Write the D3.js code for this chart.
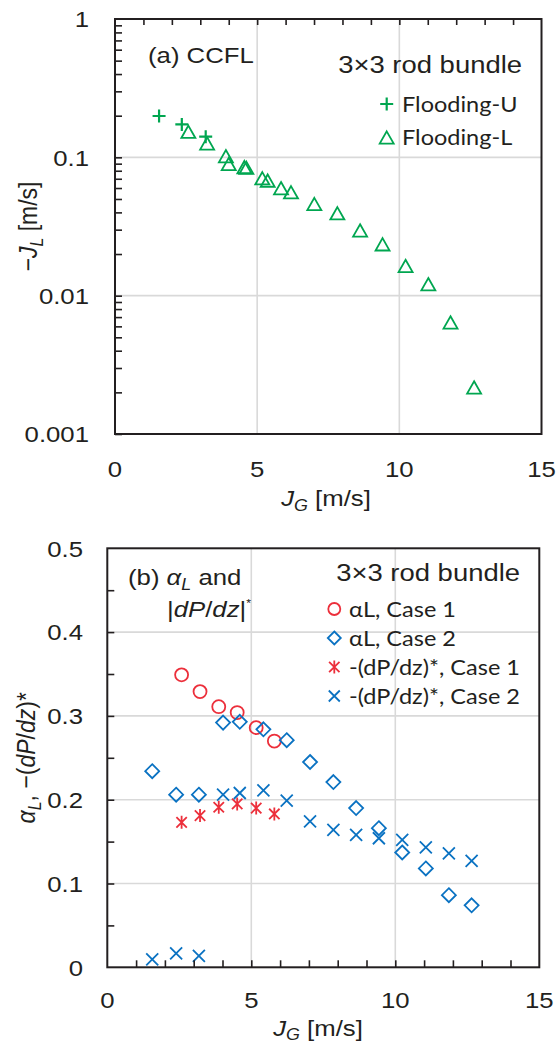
<!DOCTYPE html>
<html>
<head>
<meta charset="utf-8">
<script src="https://cdn.jsdelivr.net/npm/d3@7"></script>
<style>
  body { margin: 0; background: #fff; }
  svg { display: block; }
</style>
</head>
<body>
<svg id="fig" width="557" height="1045"></svg>
<script>
// ---- (a) CCFL: flooding limits, 3x3 rod bundle ----
const jgFloodU = [1.55, 2.35, 3.19];
const jlFloodU = [0.199, 0.173, 0.141];
const jgFloodL = [2.58, 3.24, 3.90, 4.00, 4.55, 4.62, 5.18, 5.37, 5.84, 6.19, 7.01, 7.82, 8.62, 9.41, 10.22, 11.02, 11.80, 12.63];
const jlFloodL = [0.153, 0.126, 0.102, 0.0896, 0.0850, 0.0840, 0.0706, 0.0679, 0.0598, 0.0559, 0.0460, 0.0394, 0.0296, 0.0235, 0.0164, 0.0121, 0.0064, 0.00217];

// ---- (b) liquid fraction and normalized pressure gradient ----
const jgCase1 = [2.58, 3.22, 3.87, 4.51, 5.17, 5.80];
const alphaCase1 = [0.349, 0.329, 0.311, 0.304, 0.286, 0.270];
const dpCase1 = [0.173, 0.181, 0.191, 0.195, 0.190, 0.183];
const jgCase2 = [1.56, 2.39, 3.18, 4.02, 4.60, 5.42, 6.23, 7.04, 7.85, 8.64, 9.43, 10.24, 11.06, 11.86, 12.65];
const alphaCase2 = [0.234, 0.206, 0.206, 0.292, 0.293, 0.284, 0.271, 0.245, 0.221, 0.190, 0.166, 0.137, 0.118, 0.086, 0.074];
const dpCase2 = [0.0095, 0.0167, 0.0135, 0.206, 0.208, 0.211, 0.199, 0.174, 0.164, 0.158, 0.154, 0.152, 0.143, 0.136, 0.127];

// ---- tick values and labels ----
const jgTicks = [0, 5, 10, 15];
const jgTickLabels = ["0", "5", "10", "15"];
const jlTicks = [0.001, 0.01, 0.1, 1];
const jlTickLabels = ["0.001", "0.01", "0.1", "1"];
const bTicks = [0, 0.1, 0.2, 0.3, 0.4, 0.5];
const bTickLabels = ["0", "0.1", "0.2", "0.3", "0.4", "0.5"];

// ---- legend entries ----
const legendA = ["Flooding-U", "Flooding-L"];
const legendB = ["\u03b1L, Case 1", "\u03b1L, Case 2", "-(dP/dz)*, Case 1", "-(dP/dz)*, Case 2"];

const INK = "#231f20";
const GRID = "#d9d9d9";
const GREEN = "#00a650";
const RED = "#ec2f3b";
const BLUE = "#0a72c2";
const SANS = "'Liberation Sans', Arial, sans-serif";
const LEG = "Lato, 'Open Sans', sans-serif";
const SX = 1.12; // horizontal glyph stretch

const svg = d3.select("#fig");

function label(g, x, y, anchor, size, family) {
  return g.append("text")
    .attr("transform", `translate(${x},${y}) scale(${SX},1)`)
    .attr("text-anchor", anchor)
    .attr("font-size", size)
    .attr("font-family", family || SANS)
    .attr("fill", INK);
}

// marker path generators (centred on 0,0)
const mk = {
  plus: s => `M${-s},0H${s}M0,${-s}V${s}`,
  tri: s => `M0,${-s * 0.88}L${s},${s * 0.88}L${-s},${s * 0.88}Z`,
  circle: s => `M${s},0A${s},${s} 0 1,1 ${-s},0A${s},${s} 0 1,1 ${s},0Z`,
  diamond: s => `M0,${-s}L${s},0L0,${s}L${-s},0Z`,
  cross: s => `M${-s},${-s}L${s},${s}M${-s},${s}L${s},${-s}`,
  star: s => `M${-s * 0.8},${-s * 0.8}L${s * 0.8},${s * 0.8}M${-s * 0.8},${s * 0.8}L${s * 0.8},${-s * 0.8}M0,${-s}V${s}`
};

function drawMarks(g, xs, ys, x, y, shape, size, color, width) {
  g.append("g").selectAll("path")
    .data(xs.map((v, i) => [v, ys[i]]))
    .join("path")
    .attr("transform", d => `translate(${x(d[0])},${y(d[1])})`)
    .attr("d", mk[shape](size))
    .attr("fill", "none")
    .attr("stroke", color)
    .attr("stroke-width", width);
}

function styleAxis(sel) {
  sel.select(".domain").remove();
  sel.selectAll(".tick line").attr("stroke", INK).attr("stroke-width", 1.6);
  sel.selectAll(".tick text").remove();
}

/* ================= (a) CCFL ================= */
{
  const L = 115, R = 541.5, T = 19, B = 434;
  const x = d3.scaleLinear().domain([0, 15]).range([L, R]);
  const y = d3.scaleLog().domain([0.001, 1]).range([B, T]);
  const g = svg.append("g");

  // gridlines
  g.append("g").selectAll("line").data([5, 10]).join("line")
    .attr("x1", d => x(d)).attr("x2", d => x(d)).attr("y1", T).attr("y2", B)
    .attr("stroke", GRID).attr("stroke-width", 1.6);
  g.append("g").selectAll("line").data([0.01, 0.1]).join("line")
    .attr("x1", L).attr("x2", R).attr("y1", d => y(d)).attr("y2", d => y(d))
    .attr("stroke", GRID).attr("stroke-width", 1.6);

  // data
  drawMarks(g, jgFloodL, jlFloodL, x, y, "tri", 7, GREEN, 1.8);
  drawMarks(g, jgFloodU, jlFloodU, x, y, "plus", 6.5, GREEN, 2.2);

  // tick marks: top edge (every 1 m/s), left edge (log minor)
  g.append("g").attr("transform", `translate(0,${T})`)
    .call(d3.axisTop(x).tickValues(d3.range(1, 15)).tickSizeInner(-6).tickSizeOuter(0))
    .call(styleAxis);
  const logMinor = [];
  [0.001, 0.01, 0.1].forEach(p => { for (let k = 1; k <= 9; k++) logMinor.push(p * k); });
  g.append("g").attr("transform", `translate(${L},0)`)
    .call(d3.axisLeft(y).tickValues(logMinor).tickSizeInner(-7).tickSizeOuter(0))
    .call(styleAxis);

  // frame
  g.append("rect").attr("x", L).attr("y", T).attr("width", R - L).attr("height", B - T)
    .attr("fill", "none").attr("stroke", INK).attr("stroke-width", 2);

  // tick labels
  jgTicks.forEach((v, i) => label(g, x(v), 477, "middle", 23).text(jgTickLabels[i]));
  jlTicks.forEach((v, i) => label(g, 89, y(v) + 8.3, "end", 23).text(jlTickLabels[i]));

  // axis titles
  const xt = label(g, 326, 506, "middle", 23);
  xt.append("tspan").attr("font-style", "italic").text("J");
  xt.append("tspan").attr("font-style", "italic").attr("font-size", 16).attr("dy", 5).text("G");
  xt.append("tspan").attr("dy", -5).text(" [m/s]");

  const yt = g.append("text")
    .attr("transform", `translate(37,${(T + B) / 2}) rotate(-90) scale(1,${SX})`)
    .attr("text-anchor", "middle").attr("font-size", 23).attr("font-family", SANS).attr("fill", INK);
  yt.append("tspan").text("\u2212");
  yt.append("tspan").attr("font-style", "italic").text("J");
  yt.append("tspan").attr("font-style", "italic").attr("font-size", 16).attr("dy", 5).text("L");
  yt.append("tspan").attr("dy", -5).text(" [m/s]");

  // panel title and legend
  label(g, 148, 63, "start", 23).text("(a) CCFL");
  label(g, 522, 73, "end", 24.5).text("3\u00d73 rod bundle");
  const legMarks = ["plus", "tri"];
  const legY = [104, 137.5];
  legendA.forEach((t, i) => {
    g.append("path").attr("transform", `translate(386.7,${legY[i]})`)
      .attr("d", mk[legMarks[i]](legMarks[i] === "plus" ? 6.5 : 7))
      .attr("fill", "none").attr("stroke", GREEN).attr("stroke-width", legMarks[i] === "plus" ? 2.2 : 1.8);
    label(g, 402, legY[i] + 7.5, "start", 21, LEG).text(t);
  });
}

/* ================= (b) alpha_L and |dP/dz|* ================= */
{
  const L = 107.3, R = 539.3, T = 548.3, B = 967.3;
  const x = d3.scaleLinear().domain([0, 15]).range([L, R]);
  const y = d3.scaleLinear().domain([0, 0.5]).range([B, T]);
  const g = svg.append("g");

  g.append("g").selectAll("line").data([5, 10]).join("line")
    .attr("x1", d => x(d)).attr("x2", d => x(d)).attr("y1", T).attr("y2", B)
    .attr("stroke", GRID).attr("stroke-width", 1.6);
  g.append("g").selectAll("line").data([0.1, 0.2, 0.3, 0.4]).join("line")
    .attr("x1", L).attr("x2", R).attr("y1", d => y(d)).attr("y2", d => y(d))
    .attr("stroke", GRID).attr("stroke-width", 1.6);

  drawMarks(g, jgCase1, alphaCase1, x, y, "circle", 6.5, RED, 1.8);
  drawMarks(g, jgCase2, alphaCase2, x, y, "diamond", 7, BLUE, 1.8);
  drawMarks(g, jgCase1, dpCase1, x, y, "star", 6.5, RED, 1.8);
  drawMarks(g, jgCase2, dpCase2, x, y, "cross", 6, BLUE, 1.8);

  g.append("g").attr("transform", `translate(0,${B})`)
    .call(d3.axisBottom(x).tickValues(d3.range(1, 15)).tickSizeInner(-7).tickSizeOuter(0))
    .call(styleAxis);
  g.append("g").attr("transform", `translate(${L},0)`)
    .call(d3.axisLeft(y).tickValues(d3.range(0.05, 0.5, 0.05)).tickSizeInner(-7).tickSizeOuter(0))
    .call(styleAxis);

  g.append("rect").attr("x", L).attr("y", T).attr("width", R - L).attr("height", B - T)
    .attr("fill", "none").attr("stroke", INK).attr("stroke-width", 2);

  jgTicks.forEach((v, i) => label(g, x(v), 1008, "middle", 23).text(jgTickLabels[i]));
  bTicks.forEach((v, i) => label(g, 83, y(v) + 8.3, "end", 23).text(bTickLabels[i]));

  const xt = label(g, 318, 1036, "middle", 23);
  xt.append("tspan").attr("font-style", "italic").text("J");
  xt.append("tspan").attr("font-style", "italic").attr("font-size", 16).attr("dy", 4).text("G");
  xt.append("tspan").attr("dy", -4).text(" [m/s]");

  const yt = g.append("text")
    .attr("transform", `translate(35,${(T + B) / 2}) rotate(-90) scale(1,${SX})`)
    .attr("text-anchor", "middle").attr("font-size", 23).attr("font-family", SANS).attr("fill", INK);
  yt.append("tspan").attr("font-style", "italic").text("\u03b1");
  yt.append("tspan").attr("font-style", "italic").attr("font-size", 16).attr("dy", 5).text("L");
  yt.append("tspan").attr("dy", -5).text(", \u2212(");
  yt.append("tspan").attr("font-style", "italic").text("dP");
  yt.append("tspan").text("/");
  yt.append("tspan").attr("font-style", "italic").text("dz");
  yt.append("tspan").text(")*");

  // panel title
  const t1 = label(g, 128, 585, "start", 23);
  t1.append("tspan").text("(b) ");
  t1.append("tspan").attr("font-style", "italic").text("\u03b1");
  t1.append("tspan").attr("font-style", "italic").attr("font-size", 16).attr("dy", 5).text("L");
  t1.append("tspan").attr("dy", -5).text(" and");
  const t2 = label(g, 167, 617, "start", 23);
  t2.append("tspan").text("|");
  t2.append("tspan").attr("font-style", "italic").text("dP");
  t2.append("tspan").text("/");
  t2.append("tspan").attr("font-style", "italic").text("dz");
  t2.append("tspan").text("|");
  t2.append("tspan").attr("font-size", 11).attr("dy", -10).text("*");

  // legend
  label(g, 520, 581, "end", 24.5).text("3\u00d73 rod bundle");
  const legShapes = ["circle", "diamond", "star", "cross"];
  const legColors = [RED, BLUE, RED, BLUE];
  const legSizes = [6, 6.5, 6.5, 5.5];
  const legY = [609, 638, 667, 696];
  legendB.forEach((t, i) => {
    g.append("path").attr("transform", `translate(334.3,${legY[i]})`)
      .attr("d", mk[legShapes[i]](legSizes[i]))
      .attr("fill", "none").attr("stroke", legColors[i]).attr("stroke-width", 1.8);
    label(g, 349, legY[i] + 7.5, "start", 21, LEG).text(t);
  });
}
</script>
</body>
</html>
